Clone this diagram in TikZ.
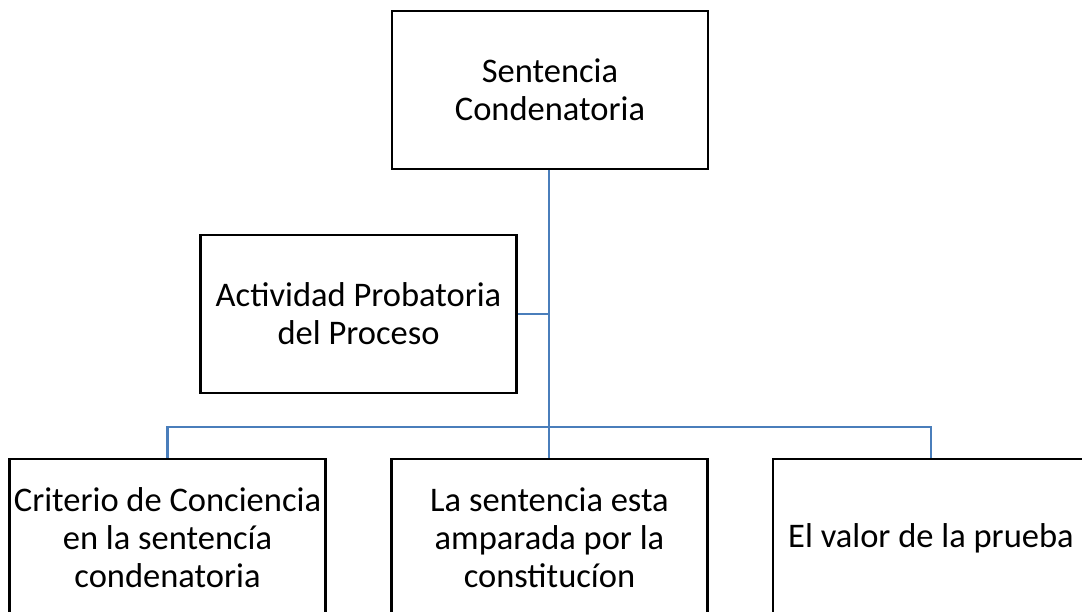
\documentclass[tikz,border=0pt]{standalone}
\usepackage{fontspec}
\setmainfont{Carlito}
\newcommand\myboxfont{\fontsize{34.5}{38}\selectfont}
\begin{document}
\begin{tikzpicture}[x=1pt,y=-1pt,
  box/.style={draw=black,line width=2.5pt,fill=white,minimum width=316pt,minimum height=158pt,
    inner sep=0pt,align=center,font=\myboxfont},
  conn/.style={draw={rgb,255:red,74;green,126;blue,187},line width=2.5pt}]
\useasboundingbox (0,0) rectangle (1082,612);
\clip (0,0) rectangle (1082,612);
\fill[white] (0,0) rectangle (1082,612);
\node[box] (top) at (550,90) {Sentencia\\Condenatoria};
\node[box] (act) at (358.5,314) {Actividad Probatoria\\del Proceso};
\node[box] (left) at (167.5,538) {Criterio de Conciencia\\en la sentencía\\condenatoria};
\node[box] (mid) at (549.5,538) {La sentencia esta\\amparada por la\\constitucíon};
\node[box] (right) at (931,538) {El valor de la prueba};
\coordinate (bus) at (549,427);
\draw[conn] (top.south -| bus) -- (mid.north -| bus);
\draw[conn] (act.east) -- (act.east -| bus);
\draw[conn] (left.north) |- (bus) -| (right.north);
\end{tikzpicture}
\end{document}
